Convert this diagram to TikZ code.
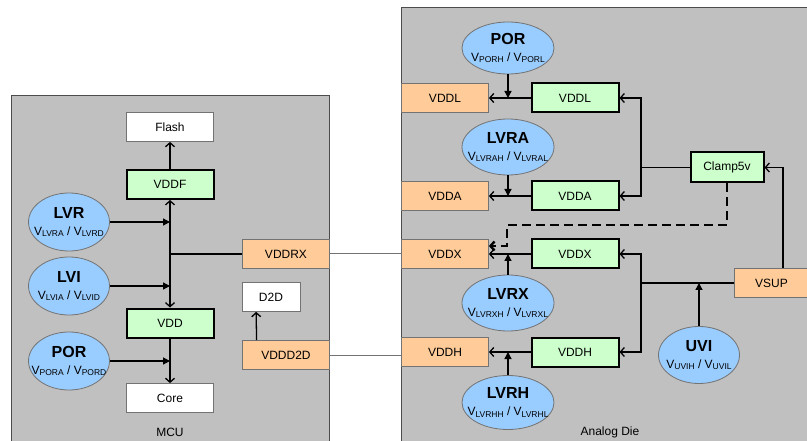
\documentclass[tikz,border=0pt]{standalone}
\usepackage{fontspec}
\setmainfont{Liberation Sans}
\usetikzlibrary{arrows.meta,shapes.geometric}
\definecolor{diegray}{HTML}{C0C0C0}
\definecolor{pinorange}{HTML}{FFCC99}
\definecolor{reggreen}{HTML}{CCFFCC}
\definecolor{monblue}{HTML}{99CCFF}
\newcommand{\vth}[1]{V\raisebox{-1.6pt}{\fontsize{8.5}{9}\selectfont#1}}
\newcommand{\mon}[3]{\makebox[0pt]{\fontsize{16}{16}\selectfont\bfseries#1}\\[3pt]\makebox[0pt]{\vth{#2} / \vth{#3}}}
\begin{document}
\begin{tikzpicture}[x=1pt,y=-1pt]
            \tikzstyle{every node}+=[inner sep=0pt,font=\fontsize{12}{14}\selectfont]
            \tikzstyle{blockbox}=[draw=black!55,fill=white,line width=0.8pt,minimum width=87pt,minimum height=29pt]
            \tikzstyle{pinbox}=[blockbox,fill=pinorange]
            \tikzstyle{regbox}=[blockbox,draw=black,line width=2pt,fill=reggreen]
            \tikzstyle{monitor}=[ellipse,draw=black!55,line width=0.8pt,fill=monblue,minimum width=92pt,minimum height=56pt,align=center]
            \tikzstyle{conn}=[draw=black,line width=1.3pt,-{Straight Barb[length=4pt,width=9pt]}]
            \tikzstyle{sense}=[draw=black,line width=1.3pt,-{Triangle[length=7pt,width=7pt]}]
            \tikzstyle{wire}=[draw=black!55,line width=1pt]
            \tikzstyle{dashconn}=[conn,line width=2.4pt,dash pattern=on 9pt off 5pt]
            \useasboundingbox (0,0) rectangle (807,441);
            \filldraw [fill=diegray,draw=black!70,line width=0.8pt] (11.5,95) rectangle (329,450);
            \filldraw [fill=diegray,draw=black!70,line width=0.8pt] (401,7.5) rectangle (815,450);
            \node [blockbox] (flash) at (170,127) {Flash};
            \node [regbox] (vddf) at (170,184.5) {VDDF};
            \node [regbox] (vdd) at (170,323) {VDD};
            \node [blockbox] (core) at (170,398) {Core};
            \node [monitor,minimum width=81pt,minimum height=58pt] (lvr) at (69,222) {\mon{LVR}{LVRA}{LVRD}};
            \node [monitor,minimum width=81pt,minimum height=58pt] (lvi) at (69,286) {\mon{LVI}{LVIA}{LVID}};
            \node [monitor,minimum width=81pt,minimum height=58pt] (pora) at (69,361) {\mon{POR}{PORA}{PORD}};
            \node [pinbox] (vddrx) at (286,254) {VDDRX};
            \node [blockbox,minimum width=58pt] (d2d) at (271,297) {D2D};
            \node [pinbox] (vddd2d) at (286,355) {VDDD2D};
            \node (mcu) at (170,432) {MCU};
            \node [monitor,minimum height=52pt] (porh) at (508,48) {\mon{POR}{PORH}{PORL}};
            \node [pinbox] (vddlo) at (445,98) {VDDL};
            \node [regbox] (vddl) at (575,98) {VDDL};
            \node [monitor] (lvra) at (508,147) {\mon{LVRA}{LVRAH}{LVRAL}};
            \node [pinbox] (vddao) at (445,196) {VDDA};
            \node [regbox] (vdda) at (575,196) {VDDA};
            \node [regbox,minimum width=73pt,minimum height=30pt] (clamp) at (727,167.5) {Clamp5v};
            \node [pinbox] (vddxo) at (445,254) {VDDX};
            \node [regbox] (vddx) at (575,254) {VDDX};
            \node [pinbox,minimum width=75pt] (vsup) at (771.5,283) {VSUP};
            \node [monitor] (lvrx) at (508,303) {\mon{LVRX}{LVRXH}{LVRXL}};
            \node [pinbox] (vddho) at (445,352) {VDDH};
            \node [regbox] (vddh) at (575,352) {VDDH};
            \node [monitor,minimum height=54pt] (lvrh) at (508,402.5) {\mon{LVRH}{LVRHH}{LVRHL}};
            \node [monitor,minimum width=81pt,minimum height=57pt] (uvi) at (699,355) {\mon{UVI}{UVIH}{UVIL}};
            \node (analog) at (610,432) {Analog Die};
            \coordinate (jm) at (vddf |- vddrx);
            \coordinate (ba) at (641,167.5);
            \coordinate (bb) at (641,283);
            \coordinate (vt) at (783,0);
            \coordinate (dk) at (507,225);
            \draw [conn] (vddf) -- (flash);
            \draw [conn] (jm) -- (vddf);
            \draw [conn] (jm) -- (vdd);
            \draw [conn] (vdd) -- (core);
            \draw [black,line width=1.3pt] (vddrx) -- (jm);
            \draw [sense] (lvr) -- (lvr -| vddf);
            \draw [sense] (lvi) -- (lvi -| vddf);
            \draw [sense] (pora) -- (pora -| vdd);
            \draw [conn] ([xshift=14.5pt]vddd2d.north west) -- ([xshift=14.5pt]d2d.south west);
            \draw [wire] (vddrx) -- (vddxo);
            \draw [wire] (vddd2d.east) -- (vddd2d.east -| vddho.west);
            \draw [conn] (vddl) -- (vddlo);
            \draw [sense] (porh) -- (porh |- vddl);
            \draw [conn] (vdda) -- (vddao);
            \draw [sense] (lvra) -- (lvra |- vdda);
            \draw [conn] (clamp) -- (ba) |- (vddl);
            \draw [conn] (ba) |- (vdda);
            \draw [conn] (vsup.north -| vt) |- (clamp);
            \draw [black,line width=1.3pt] (vsup) -- (bb);
            \draw [conn] (bb) |- (vddx);
            \draw [conn] (bb) |- (vddh);
            \draw [sense] (uvi) -- (uvi |- vsup);
            \draw [conn] (vddx) -- (vddxo);
            \draw [sense] (lvrx) -- (lvrx |- vddx);
            \draw [conn] (vddh) -- (vddho);
            \draw [sense] (lvrh) -- (lvrh |- vddh);
            \draw [dashconn] (clamp.south) |- (dk) |- ([yshift=8pt]vddxo.east);
          \end{tikzpicture}
\end{document}
